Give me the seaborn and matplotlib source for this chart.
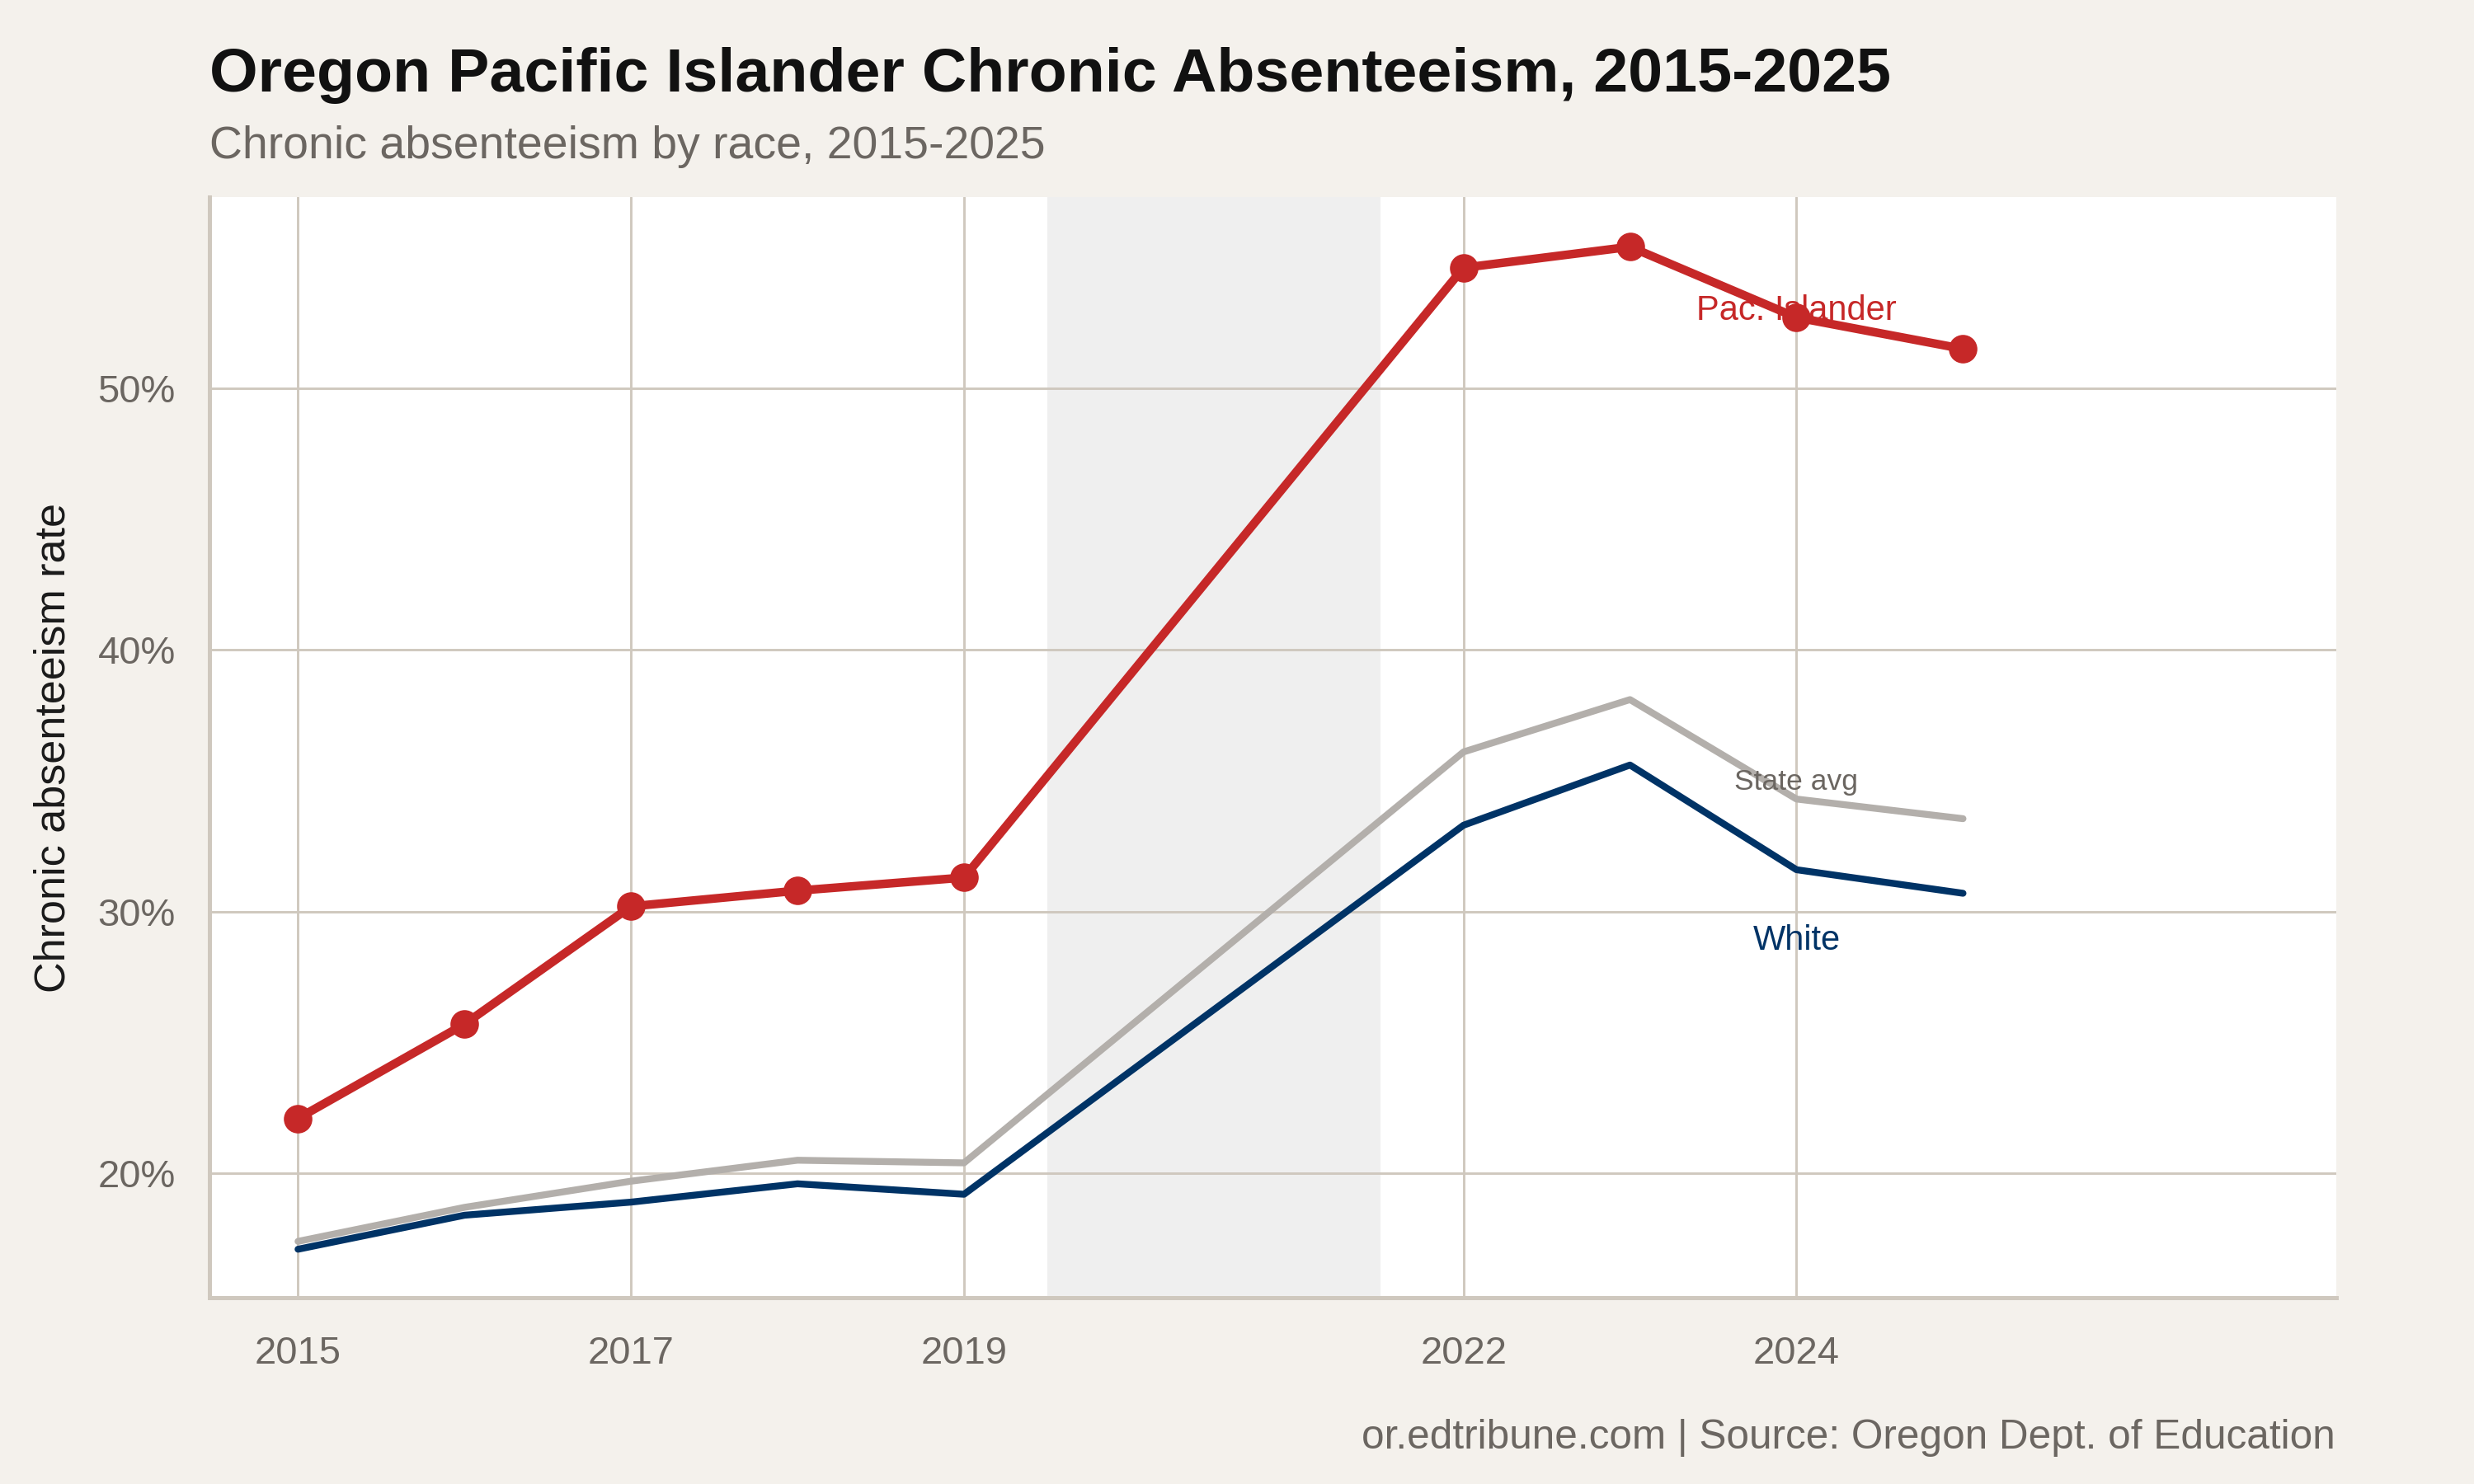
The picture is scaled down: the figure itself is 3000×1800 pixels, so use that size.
import matplotlib
matplotlib.use("Agg")
import matplotlib.pyplot as plt
import seaborn as sns
import pandas as pd
from matplotlib.ticker import FuncFormatter

years = [2015, 2016, 2017, 2018, 2019, 2022, 2023, 2024, 2025]
pac_islander = [22.1, 25.7, 30.2, 30.8, 31.3, 54.6, 55.4, 52.7, 51.5]
state_avg = [17.4, 18.7, 19.7, 20.5, 20.4, 36.1, 38.1, 34.3, 33.55]
white = [17.1, 18.4, 18.9, 19.6, 19.2, 33.3, 35.6, 31.6, 30.7]
xticks = [2015, 2017, 2019, 2022, 2024]
yticks = [20, 30, 40, 50]

BG = "#f4f1ec"
GRID = "#cfc8be"
RED = "#c62828"
NAVY = "#003366"
GRAY = "#b3afab"

sns.set_theme(style="white")
plt.rcParams["font.family"] = ["Liberation Sans", "DejaVu Sans"]

df = pd.DataFrame({
    "year": years * 3,
    "rate": state_avg + white + pac_islander,
    "group": ["State avg"] * 9 + ["White"] * 9 + ["Pac. Islander"] * 9,
})

fig = plt.figure(figsize=(10, 6), dpi=300, facecolor=BG)
ax = fig.add_axes([0.0848, 0.1254, 0.8594, 0.7418])
ax.set_facecolor("white")

ax.axvspan(2019.5, 2021.5, color="#efefef", zorder=0, lw=0)

sns.lineplot(data=df[df.group == "State avg"], x="year", y="rate", color=GRAY, lw=2.0, ax=ax, zorder=3)
sns.lineplot(data=df[df.group == "White"], x="year", y="rate", color=NAVY, lw=2.0, ax=ax, zorder=4)
sns.lineplot(data=df[df.group == "Pac. Islander"], x="year", y="rate", color=RED, lw=2.5,
             marker="o", markersize=8.3, markeredgewidth=0, ax=ax, zorder=5)

ax.set_xlim(2014.47, 2027.24)
ax.set_ylim(15.24, 57.3)
ax.set_xticks(xticks)
ax.set_yticks(yticks)
ax.yaxis.set_major_formatter(FuncFormatter(lambda v, p: f"{v:.0f}%"))
ax.grid(True, color=GRID, lw=0.7, zorder=1)
ax.set_axisbelow(True)
for s in ["top", "right"]:
    ax.spines[s].set_visible(False)
for s in ["left", "bottom"]:
    ax.spines[s].set_color(GRID)
    ax.spines[s].set_linewidth(1.2)
ax.tick_params(axis="both", colors=GRID, length=4, width=0.7, labelcolor="#6b6661", labelsize=11.3, pad=6)
ax.tick_params(axis="x", pad=7)
ax.set_xlabel("")
ax.set_ylabel("Chronic absenteeism rate", fontsize=12.5, color="#1a1a1a", labelpad=7)

ax.text(2024, 52.95, "Pac. Islander", color=RED, fontsize=10, ha="center", va="center", zorder=6)
ax.text(2024, 34.94, "State avg", color="#6b6661", fontsize=8.5, ha="center", va="center", zorder=6)
ax.text(2024, 28.9, "White", color=NAVY, fontsize=10, ha="center", va="center", zorder=6)

fig.text(0.0848, 0.949, "Oregon Pacific Islander Chronic Absenteeism, 2015-2025", fontsize=18.1,
         fontweight="bold", color="#111111", ha="left", va="center")
fig.text(0.0848, 0.901, "Chronic absenteeism by race, 2015-2025", fontsize=13.3,
         color="#6b6661", ha="left", va="center")
fig.text(0.944, 0.031, "or.edtribune.com | Source: Oregon Dept. of Education", fontsize=11.9,
         color="#6b6661", ha="right", va="center")

fig.savefig("out.png", dpi=300, facecolor=BG)
